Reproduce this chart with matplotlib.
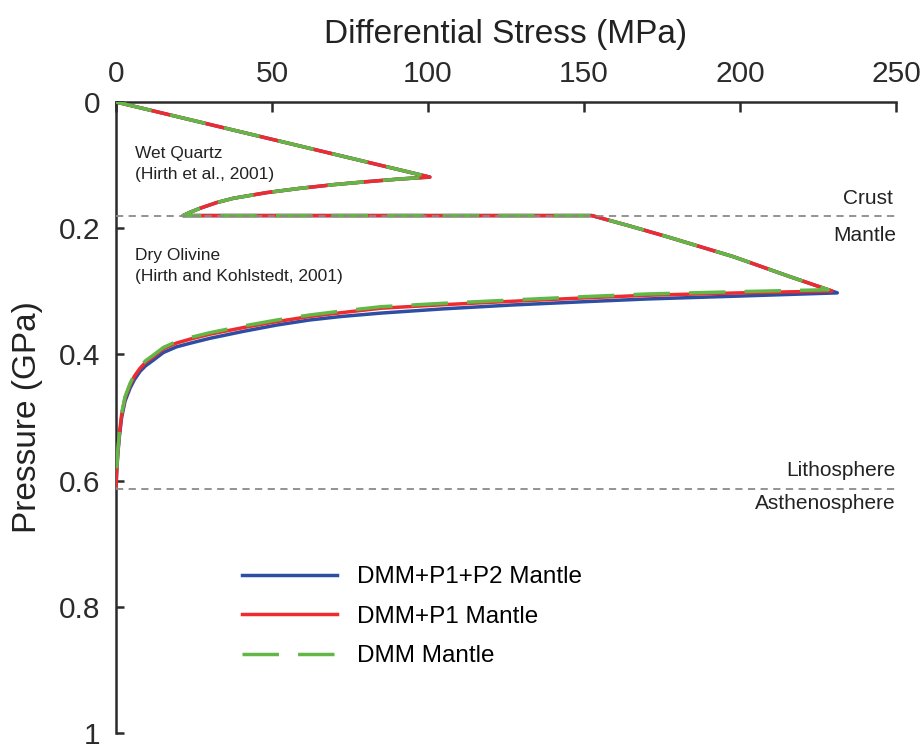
import numpy as np
import matplotlib
matplotlib.use("Agg")
import matplotlib.pyplot as plt

plt.rcParams["font.family"] = ["Liberation Sans", "DejaVu Sans"]

# crust part, shared by all three models (stress MPa, pressure GPa)
crust_stress = [0, 100.6, 91, 80.3, 69.7, 59, 48.3, 37.6, 32.2, 26.9, 23.6,
                21.5, 152.5, 163.6, 176.5, 197.8, 216.0]
crust_pres = [0, 0.119, 0.122, 0.1263, 0.131, 0.1368, 0.1436, 0.1526, 0.1595,
              0.1685, 0.175, 0.18, 0.18, 0.195, 0.2133, 0.245, 0.2768]

# mantle peak + ductile branch for each model
p2_stress = [231.2, 200, 170, 150, 127, 105, 85, 72, 62, 51.5, 40.8, 30.1,
             24, 19.4, 15.2, 12, 9.5, 7.7, 5.9, 4.5, 2.9, 1.8, 1.07, 0.55,
             0.2, 0.0]
p2_pres = [0.3025, 0.3075, 0.3122, 0.3165, 0.3217, 0.3278, 0.3345, 0.340,
           0.3455, 0.3535, 0.3635, 0.3745, 0.382, 0.388, 0.397, 0.409, 0.418,
           0.427, 0.440, 0.4535, 0.474, 0.500, 0.531, 0.560, 0.589, 0.612]

p1_stress = [229.5, 200, 170, 150, 127, 105, 85, 72, 62, 51.5, 40.8, 30.1,
             24, 19.4, 15.2, 12, 9.5, 7.7, 5.9, 4.5, 2.9, 1.8, 1.07, 0.55,
             0.2, 0.0]
p1_pres = [0.2995, 0.3025, 0.3063, 0.3105, 0.3158, 0.3212, 0.3268, 0.334,
           0.340, 0.348, 0.3575, 0.368, 0.3755, 0.382, 0.391, 0.4035, 0.4125,
           0.422, 0.4345, 0.4485, 0.469, 0.4955, 0.527, 0.557, 0.586, 0.612]

dmm_stress = [228.3, 200, 170, 150, 127, 105, 85, 72, 62, 51.5, 40.8, 30.1,
              24, 19.4, 15.2, 12, 9.5, 7.7, 5.9, 4.5, 2.9, 1.8, 1.07, 0.55,
              0.2, 0.0]
dmm_pres = [0.2975, 0.3005, 0.3043, 0.3085, 0.3138, 0.319, 0.3244, 0.3315,
            0.3376, 0.3455, 0.355, 0.3656, 0.373, 0.3797, 0.389, 0.401, 0.410,
            0.4195, 0.432, 0.446, 0.467, 0.4934, 0.525, 0.555, 0.585, 0.612]

labels = ["DMM+P1+P2 Mantle", "DMM+P1 Mantle", "DMM Mantle"]
colors = ["#2d4ea3", "#ee2b2e", "#62b846"]

moho = 0.18
lab = 0.613

fig = plt.figure(figsize=(9.24, 7.47), dpi=100)
ax = fig.add_axes([116 / 924, 1 - 733 / 747, 780 / 924, 631 / 747])

ax.plot(crust_stress + p2_stress, crust_pres + p2_pres, color=colors[0],
        lw=2.5, label=labels[0], zorder=3)
ax.plot(crust_stress + p1_stress, crust_pres + p1_pres, color=colors[1],
        lw=2.5, label=labels[1], zorder=4)
ax.plot(crust_stress + dmm_stress, crust_pres + dmm_pres, color=colors[2],
        lw=2.5, dashes=(10.5, 5.5), label=labels[2], zorder=5)

for yy in [moho, lab]:
    ax.plot([0, 250], [yy, yy], color="#8a8a8a", lw=1.3, dashes=(4, 3),
            zorder=6, clip_on=False)

txt = "#222222"
ax.text(6, 0.081, "Wet Quartz", fontsize=12.5, color=txt, va="center")
ax.text(6, 0.115, "(Hirth et al., 2001)", fontsize=12.5, color=txt, va="center")
ax.text(6, 0.2425, "Dry Olivine", fontsize=12.5, color=txt, va="center")
ax.text(6, 0.277, "(Hirth and Kohlstedt, 2001)", fontsize=12.5, color=txt,
        va="center")
ax.text(249, 0.1527, "Crust", fontsize=15, color=txt, va="center", ha="right")
ax.text(250, 0.2108, "Mantle", fontsize=15, color=txt, va="center", ha="right")
ax.text(250, 0.584, "Lithosphere", fontsize=15, color=txt, va="center",
        ha="right")
ax.text(250, 0.636, "Asthenosphere", fontsize=15, color=txt, va="center",
        ha="right")

ax.set_xlim(0, 250)
ax.set_ylim(1, 0)
ax.xaxis.tick_top()
ax.xaxis.set_label_position("top")
ax.set_xticks([0, 50, 100, 150, 200, 250])
ax.set_yticks([0, 0.2, 0.4, 0.6, 0.8, 1])
ax.set_yticklabels(["0", "0.2", "0.4", "0.6", "0.8", "1"])
for s in ["right", "bottom"]:
    ax.spines[s].set_visible(False)
for s in ["top", "left"]:
    ax.spines[s].set_linewidth(1.8)
    ax.spines[s].set_color("#2b2b2b")
ax.tick_params(axis="x", direction="in", length=7, width=1.8, labelsize=21.5,
               pad=10, colors="#2b2b2b")
ax.tick_params(axis="y", direction="in", length=6, width=1.8, labelsize=21.5,
               pad=11, colors="#2b2b2b")
ax.set_xlabel("Differential Stress (MPa)", fontsize=24, color=txt, labelpad=12)
ax.set_ylabel("Pressure (GPa)", fontsize=24, color=txt, labelpad=12)

ax.legend(loc="upper left", bbox_to_anchor=(242 / 924, 1 - 566 / 747),
          bbox_transform=fig.transFigure, frameon=False, fontsize=17.5,
          handlelength=3.9, handletextpad=0.85, labelspacing=0.72,
          borderpad=0, borderaxespad=0)

fig.savefig("out.png", dpi=100)
